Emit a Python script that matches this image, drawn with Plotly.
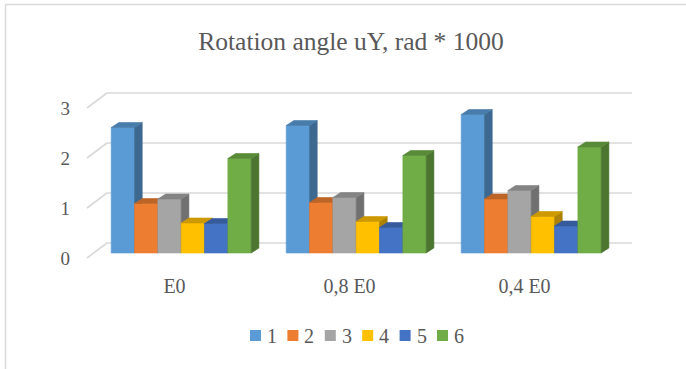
import plotly.graph_objects as go

# ---- data ----
categories = ["E0", "0,8 E0", "0,4 E0"]
series_names = ["1", "2", "3", "4", "5", "6"]
s1 = [2.51, 2.55, 2.77]
s2 = [0.99, 1.01, 1.08]
s3 = [1.08, 1.11, 1.25]
s4 = [0.60, 0.63, 0.73]
s5 = [0.59, 0.51, 0.54]
s6 = [1.89, 1.95, 2.12]
series_values = [s1, s2, s3, s4, s5, s6]
y_ticks = [0, 1, 2, 3]
title_text = "Rotation angle uY, rad * 1000"

colors = ["#5B9BD5", "#ED7D31", "#A5A5A5", "#FFC000", "#4472C4", "#70AD47"]
FONT = "Liberation Serif"

# ---- pseudo-3D geometry (x in category units, y in value units) ----
W, H = 686, 369
L, R, T, B = 71, 660, 60, 272          # plot area in px
X0, PX_PER_U = 93.7, 175.0             # bar plane: px = X0 + u*175
Y0, PX_PER_V = 253.0, 50.0             # bar plane: py = Y0 - v*50
x_range = [(L - X0) / PX_PER_U, (R - X0) / PX_PER_U]
y_range = [(Y0 - B) / PX_PER_V, (Y0 - T) / PX_PER_V]

n_series = len(series_values)
bar_w = 1.0 / 7.5                      # gap width 150%
gap_half = 0.75 * bar_w
side_du, side_dv = 7.7 / PX_PER_U, 5.0 / PX_PER_V
front_du, front_dv = -6.7 / PX_PER_U, -0.1
back_du, back_dv = 13.3 / PX_PER_U, 0.2
n_cat = len(categories)


def shade(hex_color, k):
    h = hex_color.lstrip("#")
    r, g, b = (int(h[i:i + 2], 16) for i in (0, 2, 4))
    return "rgb({},{},{})".format(int(r * k), int(g * k), int(b * k))


fig = go.Figure()

# walls: back gridlines and left side diagonals
grid_color = "#D9D9D9"
for v in y_ticks:
    fig.add_trace(go.Scatter(
        x=[back_du, n_cat + back_du], y=[v + back_dv, v + back_dv],
        mode="lines", line=dict(color=grid_color, width=1.6),
        hoverinfo="skip", showlegend=False))
    fig.add_trace(go.Scatter(
        x=[front_du, back_du], y=[v + front_dv, v + back_dv],
        mode="lines", line=dict(color=grid_color, width=1.6),
        hoverinfo="skip", showlegend=False))

# bars: front, side and top faces, drawn series by series
for si, (vals, col) in enumerate(zip(series_values, colors)):
    fx, fy, sx, sy, tx, ty = [], [], [], [], [], []
    for ci, v in enumerate(vals):
        ul = ci + gap_half + si * bar_w
        ur = ul + bar_w
        fx += [ul, ur, ur, ul, ul, None]
        fy += [0, 0, v, v, 0, None]
        sx += [ur, ur + side_du, ur + side_du, ur, ur, None]
        sy += [0, side_dv, v + side_dv, v, 0, None]
        tx += [ul, ur, ur + side_du, ul + side_du, ul, None]
        ty += [v, v, v + side_dv, v + side_dv, v, None]
    for xs, ys, c in ((fx, fy, col), (sx, sy, shade(col, 0.68)), (tx, ty, shade(col, 0.8))):
        fig.add_trace(go.Scatter(
            x=xs, y=ys, fill="toself", fillcolor=c, mode="lines",
            line=dict(color=c, width=0.6), hoverinfo="skip", showlegend=False))


def px_to_paper(px, py):
    return (px - L) / (R - L), (B - py) / (B - T)


# legend: coloured squares with labels
shapes = []
annotations = []
leg_x0, leg_step, leg_y = 250.0, 37.4, 335.5
for i, (name, col) in enumerate(zip(series_names, colors)):
    x0 = leg_x0 + i * leg_step
    a = px_to_paper(x0, leg_y - 5.5)
    b = px_to_paper(x0 + 11, leg_y + 5.5)
    shapes.append(dict(type="rect", xref="paper", yref="paper",
                       x0=a[0], y0=a[1], x1=b[0], y1=b[1],
                       fillcolor=col, line=dict(width=0)))
    t = px_to_paper(x0 + 15, leg_y)
    annotations.append(dict(text=name, xref="paper", yref="paper", x=t[0], y=t[1],
                            xanchor="left", yanchor="middle", showarrow=False,
                            font=dict(family=FONT, size=20, color="#595959")))

# chart frame
p1 = px_to_paper(5.5, 4.5)
p2 = px_to_paper(720, 400)
shapes.append(dict(type="line", xref="paper", yref="paper", x0=p1[0], y0=p1[1],
                   x1=p2[0], y1=p1[1], line=dict(color="#D9D9D9", width=1.5)))
shapes.append(dict(type="line", xref="paper", yref="paper", x0=p1[0], y0=p1[1],
                   x1=p1[0], y1=p2[1], line=dict(color="#D9D9D9", width=1.5)))

font_col = "#595959"
fig.update_layout(
    width=W, height=H,
    margin=dict(l=L, r=W - R, t=T, b=H - B, pad=0),
    paper_bgcolor="white", plot_bgcolor="white",
    showlegend=False,
    font=dict(family=FONT, color=font_col),
    title=dict(text=title_text, x=351 / W, xanchor="center",
               y=1 - 41 / H, yanchor="middle",
               font=dict(family=FONT, size=25.5, color=font_col)),
    xaxis=dict(range=x_range, showgrid=False, zeroline=False, showline=False,
               tickmode="array",
               tickvals=[i + 0.5 + front_du for i in range(n_cat)],
               ticktext=categories, ticks="", ticklen=0,
               tickfont=dict(family=FONT, size=20, color=font_col)),
    yaxis=dict(range=y_range, showgrid=False, zeroline=False, showline=False,
               tickmode="array",
               tickvals=[v + front_dv for v in y_ticks],
               ticktext=[str(v) for v in y_ticks], ticks="", ticklen=0,
               tickfont=dict(family=FONT, size=19, color=font_col)),
    shapes=shapes, annotations=annotations,
)

fig.write_html("out.html")
